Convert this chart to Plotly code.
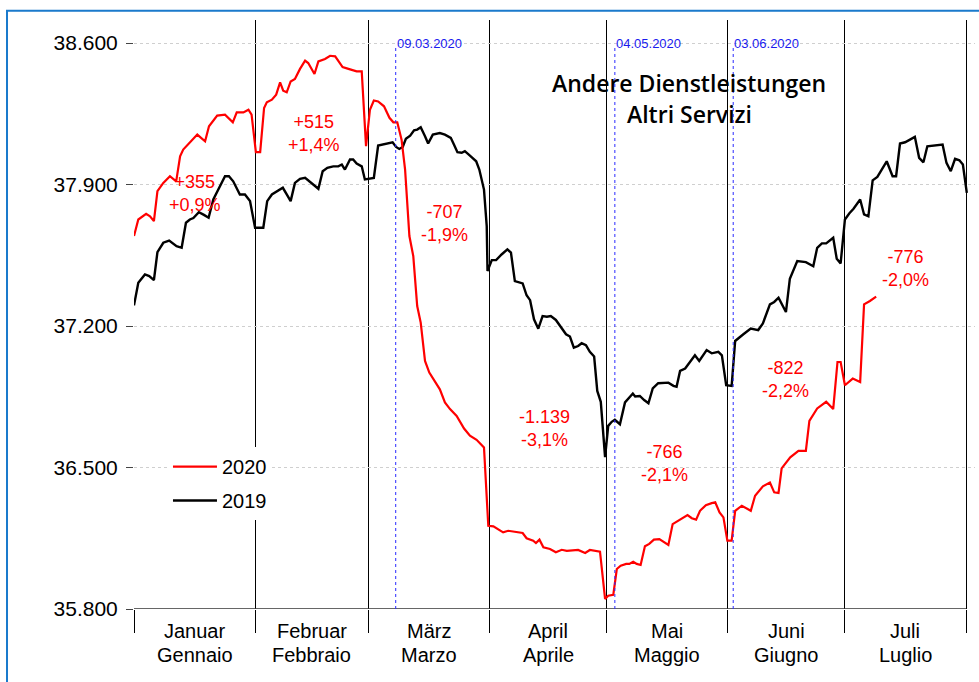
import plotly.graph_objects as go

# ---------------- data ----------------
days_2020 = [0, 1.1, 3.1, 4.1, 5.1, 6.0, 7.5, 9.2, 10.8, 11.8,
             12.6, 14.3, 16.2, 18.2, 19.2, 21.3, 23.3, 25.3, 26.3, 28.0,
             29.3, 30.1, 31.2, 32.3, 33.3, 34.0, 35.3, 36.4, 37.4, 38.2,
             39.1, 40.1, 41.2, 42.5, 43.8, 44.6, 46.2, 47.2, 48.9, 50.2,
             51.5, 52.7, 53.4, 54.9, 57.0, 58.3, 59.4, 60.4, 61.4, 62.5,
             64.0, 65.4, 66.4, 67.4, 68.5, 69.4, 70.5, 71.5, 72.5, 73.4,
             74.5, 75.6, 77.1, 78.3, 79.6, 80.9, 82.6, 84.5, 86.0, 87.7,
             89.6, 90.7, 92.0, 93.3, 94.5, 95.8, 97.5, 99.5, 100.5, 102.2,
             102.9, 103.8, 104.8, 106.5, 108.0, 109.5, 110.8, 113.7, 115.5, 116.7,
             119.3, 120.6, 121.4, 122.7, 123.6, 124.6, 126.0, 126.8, 127.8, 128.7,
             129.7, 130.8, 131.9, 133.1, 134.5, 135.7, 136.8, 137.9, 139.3, 140.6,
             141.7, 142.8, 143.9, 144.9, 146.4, 147.9, 148.8, 149.9, 150.9, 151.9,
             153.0, 153.9, 155.6, 157.9, 159.0, 161.0, 162.8, 163.9, 165.0, 165.8,
             168.0, 170.1, 172.0, 172.9, 174.9, 177.2, 179.0, 180.1, 180.9, 182.0,
             184.0, 185.9, 186.9, 188.4, 190.0]
vals_2020 = [37645, 37727, 37755, 37743, 37719, 37867, 37908, 37941, 37916, 38040,
             38073, 38106, 38147, 38114, 38188, 38241, 38246, 38208, 38257, 38257,
             38270, 38246, 38060, 38060, 38279, 38307, 38320, 38345, 38405, 38364,
             38356, 38410, 38422, 38472, 38513, 38501, 38447, 38509, 38521, 38537,
             38534, 38501, 38481, 38472, 38460, 38460, 38090, 38270, 38316, 38311,
             38287, 38230, 38208, 38208, 38122, 37974, 37645, 37546, 37299, 37217,
             37027, 36970, 36920, 36887, 36822, 36789, 36755, 36693, 36657, 36637,
             36599, 36212, 36209, 36192, 36179, 36187, 36182, 36176, 36150, 36138,
             36126, 36143, 36105, 36097, 36081, 36093, 36088, 36092, 36077, 36092,
             36084, 35850, 35866, 35870, 35998, 36014, 36023, 36023, 36034, 36023,
             36018, 36110, 36122, 36143, 36146, 36130, 36117, 36220, 36237, 36249,
             36265, 36249, 36242, 36286, 36314, 36324, 36328, 36278, 36253, 36138,
             36138, 36286, 36311, 36286, 36360, 36407, 36426, 36377, 36374, 36496,
             36550, 36582, 36582, 36731, 36792, 36825, 36789, 37022, 37022, 36907,
             36940, 36923, 37307, 37324, 37345]

days_2019 = [0, 1.1, 2.8, 3.9, 5.1, 6.0, 7.5, 9.0, 10.9, 12.2,
             13.3, 14.3, 15.2, 16.6, 17.9, 19.1, 20.3, 21.8, 23.3, 24.3,
             25.4, 27.1, 28.4, 29.7, 31.0, 33.1, 34.1, 35.3, 36.5, 38.1,
             39.1, 40.1, 41.2, 42.5, 43.8, 45.1, 46.2, 47.2, 48.3, 49.5,
             51.0, 52.3, 53.2, 54.0, 55.3, 56.1, 57.0, 58.3, 59.1, 60.4,
             61.4, 62.5, 63.8, 65.1, 66.2, 67.1, 67.9, 68.8, 69.6, 70.7,
             71.7, 72.5, 73.4, 74.5, 75.3, 76.5, 78.3, 79.6, 81.1, 81.9,
             82.8, 83.9, 84.7, 86.0, 87.6, 88.4, 89.6, 90.3, 90.5, 91.6,
             92.7, 94.1, 95.6, 96.5, 97.5, 99.5, 100.5, 101.4, 102.4, 103.5,
             104.6, 105.7, 106.7, 108.0, 109.5, 110.6, 111.6, 112.6, 113.7, 114.6,
             115.7, 116.7, 117.8, 118.6, 119.5, 120.6, 121.4, 122.3, 123.1, 124.4,
             125.7, 127.7, 128.3, 129.5, 130.6, 131.7, 132.8, 134.2, 136.8, 138.1,
             138.9, 139.8, 141.1, 142.3, 143.6, 144.7, 146.6, 147.9, 149.6, 150.5,
             151.6, 153.0, 153.9, 156.0, 157.9, 159.8, 161.0, 162.8, 163.9, 165.0,
             166.9, 167.9, 169.8, 172.0, 173.9, 174.9, 176.1, 177.2, 179.0, 179.9,
             180.9, 182.0, 183.1, 184.2, 185.9, 186.9, 188.0, 189.1, 190.3, 192.7,
             194.2, 195.1, 196.1, 197.4, 198.5, 199.9, 201.0, 202.1, 203.1, 204.6,
             207.0, 208.0, 209.1, 210.2, 211.3, 212.2, 213.2]
vals_2019 = [37302, 37414, 37455, 37447, 37427, 37566, 37612, 37623, 37595, 37587,
             37711, 37727, 37734, 37763, 37750, 37736, 37826, 37884, 37941, 37941,
             37916, 37851, 37851, 37818, 37686, 37686, 37818, 37851, 37867, 37884,
             37851, 37818, 37908, 37928, 37933, 37911, 37892, 37879, 37966, 37983,
             37990, 37990, 37999, 37974, 38024, 38024, 38004, 37990, 37925, 37928,
             37933, 38093, 38098, 38103, 38109, 38086, 38076, 38086, 38126, 38142,
             38168, 38172, 38183, 38139, 38103, 38147, 38155, 38147, 38131, 38098,
             38060, 38057, 38065, 38043, 38015, 37974, 37875, 37694, 37472, 37526,
             37526, 37554, 37579, 37563, 37422, 37411, 37352, 37328, 37233, 37187,
             37249, 37246, 37249, 37230, 37192, 37159, 37148, 37093, 37101, 37115,
             37105, 37072, 37049, 36879, 36825, 36551, 36706, 36726, 36736, 36714,
             36822, 36866, 36851, 36854, 36834, 36818, 36891, 36917, 36920, 36904,
             36900, 36978, 36990, 37019, 37055, 37027, 37081, 37065, 37072, 37055,
             36907, 36904, 37126, 37159, 37187, 37180, 37213, 37307, 37319, 37340,
             37269, 37434, 37521, 37516, 37496, 37587, 37609, 37609, 37637, 37533,
             37510, 37727, 37757, 37780, 37826, 37752, 37743, 37921, 37938, 38015,
             37941, 37941, 38103, 38109, 38122, 38136, 38032, 38010, 38089, 38093,
             38098, 38007, 37966, 38027, 38020, 37999, 37859]

month_starts = [0, 31, 60, 91, 121, 152, 182, 213]
month_de = ["Januar", "Februar", "März", "April", "Mai", "Juni", "Juli"]
month_it = ["Gennaio", "Febbraio", "Marzo", "Aprile", "Maggio", "Giugno", "Luglio"]

event_days = [67.0, 123.1, 153.4]
event_labels = ["09.03.2020", "04.05.2020", "03.06.2020"]

diff_abs = ["+355", "+515", "-707", "-1.139", "-766", "-822", "-776"]
diff_pct = ["+0,9%", "+1,4%", "-1,9%", "-3,1%", "-2,1%", "-2,2%", "-2,0%"]
diff_x = [15.6, 46.1, 79.6, 105.2, 135.7, 166.9, 197.4]
diff_y = [37858, 38154, 37707, 36695, 36519, 36937, 37487]

y_ticks = [35800, 36500, 37200, 37900, 38600]
y_ticklabels = ["35.800", "36.500", "37.200", "37.900", "38.600"]

title_lines = ["Andere Dienstleistungen", "Altri Servizi"]

# ---------------- figure ----------------
FONT = "Liberation Sans, Arial, sans-serif"

fig = go.Figure()
fig.add_trace(go.Scatter(x=days_2019, y=vals_2019, mode="lines", name="2019",
                         line=dict(color="black", width=2.4), legendrank=2,
                         legendgroup="b"))
fig.add_trace(go.Scatter(x=days_2020, y=vals_2020, mode="lines", name="2020",
                         line=dict(color="#ff0000", width=2.2), legendrank=1,
                         legendgroup="a"))

shapes = []
# x axis line
shapes.append(dict(type="line", xref="x", yref="y", x0=month_starts[0], x1=month_starts[-1],
                   y0=y_ticks[0], y1=y_ticks[0], line=dict(color="#333333", width=1.4),
                   layer="above"))
# event lines
for d in event_days:
    shapes.append(dict(type="line", xref="x", yref="y", x0=d, x1=d,
                       y0=y_ticks[0], y1=38585, line=dict(color="#2a2aff", width=1, dash="dot"),
                       layer="above"))
# blue frame
shapes.append(dict(type="rect", xref="paper", yref="paper", x0=-0.151, x1=1.01,
                   y0=-0.2, y1=1.0158, line=dict(color="#1a7acc", width=2),
                   fillcolor="rgba(0,0,0,0)", layer="above"))

annotations = []
for d, lab in zip(event_days, event_labels):
    annotations.append(dict(x=d, y=y_ticks[-1], xref="x", yref="y", text=lab,
                            showarrow=False, xanchor="left", yanchor="middle", xshift=-1,
                            font=dict(family=FONT, size=13, color="#1a1aee")))
for xx, yy, a, p in zip(diff_x, diff_y, diff_abs, diff_pct):
    annotations.append(dict(x=xx, y=yy, xref="x", yref="y", text=a + "<br>" + p,
                            showarrow=False, xanchor="center", yanchor="middle",
                            font=dict(family=FONT, size=18, color="#ff0000")))
for i in range(len(month_de)):
    mid = (month_starts[i] + month_starts[i + 1]) / 2
    annotations.append(dict(x=mid, y=0, xref="x", yref="paper", text=month_de[i],
                            showarrow=False, xanchor="center", yanchor="middle", yshift=-22,
                            font=dict(family=FONT, size=20, color="black")))
    annotations.append(dict(x=mid, y=0, xref="x", yref="paper", text=month_it[i],
                            showarrow=False, xanchor="center", yanchor="middle", yshift=-46,
                            font=dict(family=FONT, size=20, color="black")))
annotations.append(dict(x=0.66, y=0.893, xref="paper", yref="paper", text=title_lines[0],
                        showarrow=False, xanchor="center", yanchor="middle",
                        font=dict(family="Open Sans", size=23, color="black", weight=600)))
annotations.append(dict(x=0.66, y=0.8404, xref="paper", yref="paper", text=title_lines[1],
                        showarrow=False, xanchor="center", yanchor="middle",
                        font=dict(family="Open Sans", size=23, color="black", weight=600)))

fig.update_layout(
    width=979, height=682,
    margin=dict(l=134, r=4, t=20, b=73, pad=0),
    paper_bgcolor="white", plot_bgcolor="white",
    showlegend=True,
    legend=dict(x=0.0404, y=0.275, xanchor="left", yanchor="top",
                bgcolor="white", borderwidth=0, tracegroupgap=5, itemwidth=44,
                font=dict(family=FONT, size=20, color="black")),
    xaxis=dict(range=[0, 215.3], tickvals=month_starts, showticklabels=False,
               ticks="outside", ticklen=23, tickcolor="black", tickwidth=1,
               showgrid=True, gridcolor="black", gridwidth=1,
               zeroline=False, showline=False, fixedrange=True),
    yaxis=dict(range=[35800, 38714], tickvals=y_ticks, ticktext=y_ticklabels,
               ticks="outside", ticklen=7, tickcolor="#444444", tickwidth=1,
               ticklabelstandoff=4,
               showgrid=True, gridcolor="#cfcfcf", gridwidth=1, griddash="dot",
               zeroline=False, showline=False,
               tickfont=dict(family=FONT, size=21, color="black")),
    shapes=shapes,
    annotations=annotations,
)

fig.write_html("out.html", config={"displayModeBar": False},
               post_script="document.body.style.margin='0px';document.body.style.padding='0px';")
